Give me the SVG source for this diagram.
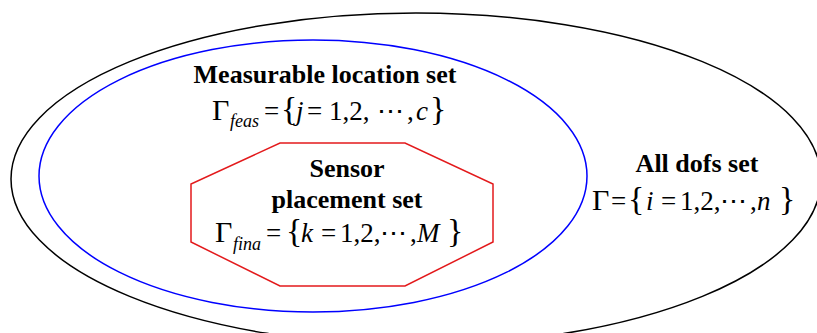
<svg xmlns="http://www.w3.org/2000/svg" width="817" height="333" viewBox="0 0 817 333">
<style>
text{font-family:'Liberation Serif','Times New Roman',serif}
.bold{font-weight:bold;font-size:26px;fill:#000;text-anchor:middle}
.m{font-size:27px;fill:#000}
.g{font-size:30px}
.br{font-size:34px;font-weight:normal}
.it{font-style:italic}
.sub{font-style:italic;font-size:18px}
.dots{font-family:'DejaVu Serif',serif;font-size:27px}
</style>
<rect width="817" height="333" fill="#fff"/>
<g id="all-dofs">
<ellipse cx="416" cy="179" rx="405" ry="166" fill="none" stroke="#000" stroke-width="1.5"/>
<text class="bold" x="697" y="172">All dofs set</text>
<text class="m" y="210"><tspan class="g" x="592">Γ</tspan><tspan x="611">=</tspan><tspan class="br" x="628">{</tspan><tspan class="it" x="646">i</tspan><tspan x="661">=</tspan><tspan x="680">1,2,</tspan><tspan class="dots" x="720">⋯</tspan><tspan x="750">,</tspan><tspan class="it" x="757">n</tspan><tspan class="br" x="779">}</tspan></text>
</g>
<g id="measurable">
<ellipse cx="313" cy="176" rx="274" ry="136" fill="none" stroke="#0000ff" stroke-width="1.5"/>
<text class="bold" x="325" y="83">Measurable location set</text>
<text class="m" y="120"><tspan class="g" x="212">Γ</tspan><tspan class="sub" x="230" y="127">feas</tspan><tspan x="264" y="120">=</tspan><tspan class="br" x="281">{</tspan><tspan class="it" x="296">j</tspan><tspan x="307">=</tspan><tspan x="329">1,2,</tspan><tspan class="dots" x="377">⋯</tspan><tspan x="407">,</tspan><tspan class="it" x="416">c</tspan><tspan class="br" x="430">}</tspan></text>
</g>
<g id="sensor">
<polygon points="280,143 405,143 493,184 493,242 405,286 280,286 191,242 191,184" fill="none" stroke="#e31a1c" stroke-width="1.5"/>
<text class="bold" x="347" y="177">Sensor</text>
<text class="bold" x="347" y="208">placement set</text>
<text class="m" y="242"><tspan class="g" x="215">Γ</tspan><tspan class="sub" x="233" y="250">fina</tspan><tspan x="266" y="242">=</tspan><tspan class="br" x="286">{</tspan><tspan class="it" x="301">k</tspan><tspan x="321">=</tspan><tspan x="340">1,2,</tspan><tspan class="dots" x="380">⋯</tspan><tspan x="410">,</tspan><tspan class="it" x="417">M</tspan><tspan class="br" x="447">}</tspan></text>
</g>
<g id="connectors"></g>
</svg>
